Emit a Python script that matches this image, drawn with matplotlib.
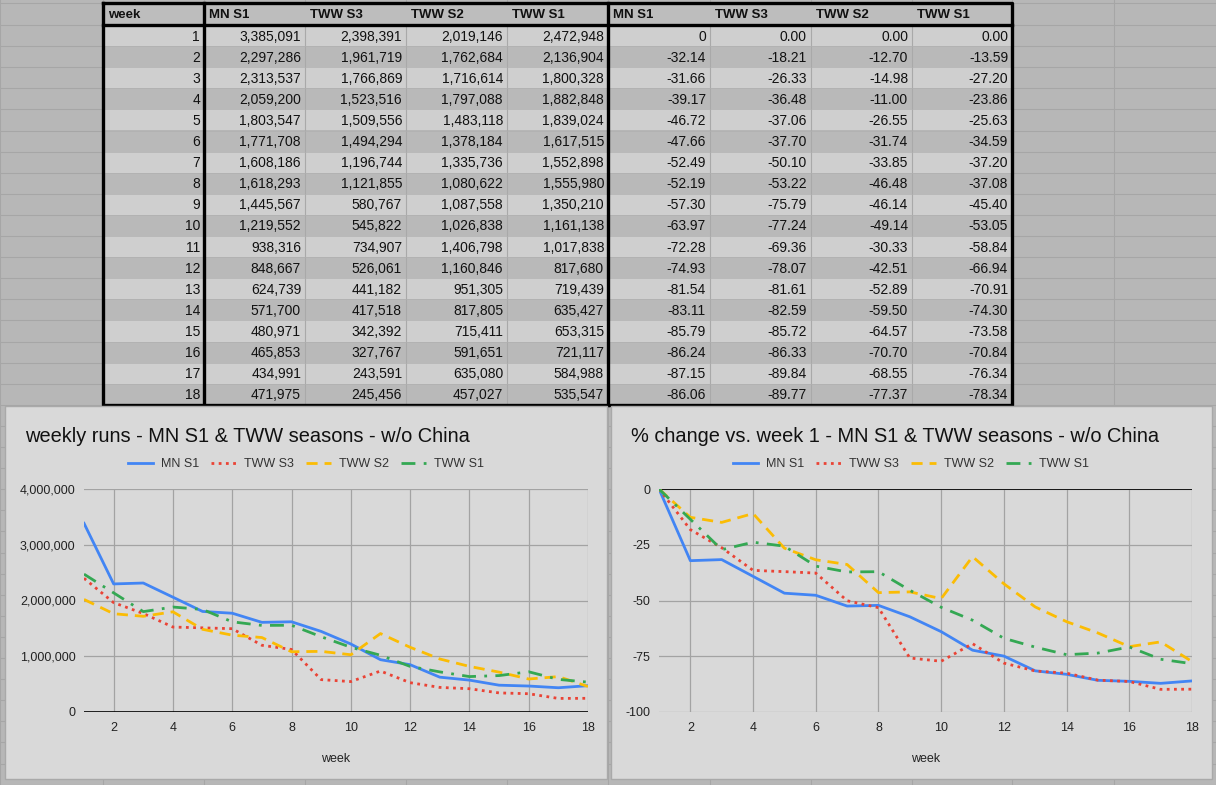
# 주간 실행수 표 + 두 개의 선 그래프 (스프레드시트 화면 재현)

import matplotlib
matplotlib.use('Agg')
import matplotlib.pyplot as plt
from matplotlib.patches import Rectangle

plt.rcParams['font.family'] = ['Liberation Sans', 'DejaVu Sans']

# 데이터
weeks = list(range(1, 19))
series_names = ['MN S1', 'TWW S3', 'TWW S2', 'TWW S1']

runs_mn_s1 = [3385091, 2297286, 2313537, 2059200, 1803547, 1771708, 1608186, 1618293, 1445567,
              1219552, 938316, 848667, 624739, 571700, 480971, 465853, 434991, 471975]
runs_tww_s3 = [2398391, 1961719, 1766869, 1523516, 1509556, 1494294, 1196744, 1121855, 580767,
               545822, 734907, 526061, 441182, 417518, 342392, 327767, 243591, 245456]
runs_tww_s2 = [2019146, 1762684, 1716614, 1797088, 1483118, 1378184, 1335736, 1080622, 1087558,
               1026838, 1406798, 1160846, 951305, 817805, 715411, 591651, 635080, 457027]
runs_tww_s1 = [2472948, 2136904, 1800328, 1882848, 1839024, 1617515, 1552898, 1555980, 1350210,
               1161138, 1017838, 817680, 719439, 635427, 653315, 721117, 584988, 535547]

pct_mn_s1 = [0, -32.14, -31.66, -39.17, -46.72, -47.66, -52.49, -52.19, -57.30,
             -63.97, -72.28, -74.93, -81.54, -83.11, -85.79, -86.24, -87.15, -86.06]
pct_tww_s3 = [0.00, -18.21, -26.33, -36.48, -37.06, -37.70, -50.10, -53.22, -75.79,
              -77.24, -69.36, -78.07, -81.61, -82.59, -85.72, -86.33, -89.84, -89.77]
pct_tww_s2 = [0.00, -12.70, -14.98, -11.00, -26.55, -31.74, -33.85, -46.48, -46.14,
              -49.14, -30.33, -42.51, -52.89, -59.50, -64.57, -70.70, -68.55, -77.37]
pct_tww_s1 = [0.00, -13.59, -27.20, -23.86, -25.63, -34.59, -37.20, -37.08, -45.40,
              -53.05, -58.84, -66.94, -70.91, -74.30, -73.58, -70.84, -76.34, -78.34]

runs = [runs_mn_s1, runs_tww_s3, runs_tww_s2, runs_tww_s1]
pcts = [pct_mn_s1, pct_tww_s3, pct_tww_s2, pct_tww_s1]

colors = ['#4285f4', '#ea4335', '#fbbc04', '#34a853']
styles = ['-', (0, (1, 1.6)), (0, (4, 2.5)), (0, (5, 3, 1, 3))]

W, H = 1216, 785
fig = plt.figure(figsize=(W / 100, H / 100), dpi=100)
fig.patch.set_facecolor('#b7b7b7')


def px_rect(x0, y0, x1, y1):
    return [x0 / W, 1 - y1 / H, (x1 - x0) / W, (y1 - y0) / H]


# 배경 (스프레드시트 격자) + 표
bg = fig.add_axes([0, 0, 1, 1])
bg.set_xlim(0, W)
bg.set_ylim(H, 0)
bg.axis('off')

col_x = [103, 204, 305, 406, 507, 608, 710, 811, 912, 1012]
grid_cols = [0] + col_x + [1114, 1216]
row_top, header_bot, row_h = 3, 25, 21.1
grid_rows = [row_top, header_bot] + [header_bot + row_h * (i + 1) for i in range(40)]

for x in grid_cols:
    bg.plot([x, x], [0, H], color='#a6a6a6', lw=0.8, zorder=1)
for y in grid_rows:
    bg.plot([0, W], [y, y], color='#a6a6a6', lw=0.8, zorder=1)

table_bot = header_bot + row_h * len(weeks)

# 머리글
bg.add_patch(Rectangle((col_x[0], row_top), col_x[-1] - col_x[0], header_bot - row_top,
                       facecolor='#bdbdbd', edgecolor='none', zorder=2))
headers = ['week'] + series_names + series_names
for j, name in enumerate(headers):
    bg.text(col_x[j] + 5, (row_top + header_bot) / 2 + 1, name, fontsize=9.5,
            fontweight='bold', ha='left', va='center', color='#111111', zorder=4)

# 데이터 행
for i, wk in enumerate(weeks):
    y0 = header_bot + row_h * i
    shade = '#cfcfcf' if i % 2 == 0 else '#b9b9b9'
    bg.add_patch(Rectangle((col_x[0], y0), col_x[-1] - col_x[0], row_h,
                           facecolor=shade, edgecolor='none', zorder=2))
    yc = y0 + row_h / 2 + 1
    cells = [str(wk)]
    cells += ['{:,}'.format(r[i]) for r in runs]
    for k, p in enumerate(pcts):
        if k == 0 and p[i] == 0:
            cells.append('0')
        else:
            cells.append('{:.2f}'.format(p[i]))
    for j, txt in enumerate(cells):
        bg.text(col_x[j + 1] - 4, yc, txt, fontsize=10, ha='right', va='center',
                color='#111111', zorder=4)

for x in col_x[1:-1]:
    bg.plot([x, x], [header_bot, table_bot], color='#a9a9a9', lw=0.8, zorder=3)
for y in [header_bot + row_h * i for i in range(1, len(weeks))]:
    bg.plot([col_x[0], col_x[-1]], [y, y], color='#b0b0b0', lw=0.5, zorder=3)

# 굵은 테두리
thick = dict(color='black', lw=2.4, zorder=5, solid_capstyle='projecting')
bg.plot([col_x[0], col_x[-1], col_x[-1], col_x[0], col_x[0]],
        [row_top, row_top, table_bot, table_bot, row_top], **thick)
bg.plot([col_x[0], col_x[-1]], [header_bot, header_bot], **thick)
bg.plot([col_x[1], col_x[1]], [row_top, table_bot], **thick)
bg.plot([col_x[5], col_x[5]], [row_top, table_bot], **thick)

# 차트 패널
panels = [(5, 406, 607, 779), (611, 406, 1212, 779)]
for (x0, y0, x1, y1) in panels:
    bg.add_patch(Rectangle((x0, y0), x1 - x0, y1 - y0, facecolor='#d9d9d9',
                           edgecolor='#a9a9a9', lw=1.0, zorder=6))


def draw_chart(rect, data, title, title_x, legend_x, ylim, yticks, yfmt, zero_y):
    ax = fig.add_axes(px_rect(*rect))
    ax.set_facecolor('#d9d9d9')
    for name, vals, c, ls in zip(series_names, data, colors, styles):
        ax.plot(weeks, vals, color=c, linestyle=ls, lw=2, label=name, zorder=3)
    ax.set_xlim(1, 18)
    ax.set_ylim(*ylim)
    ax.set_xticks(range(2, 19, 2))
    ax.set_yticks(yticks)
    ax.set_yticklabels([yfmt(v) for v in yticks])
    ax.grid(True, color='#a3a3a3', lw=0.9, zorder=1)
    ax.axhline(zero_y, color='black', lw=1.2, zorder=2)
    for s in ax.spines.values():
        s.set_visible(False)
    ax.tick_params(length=0, labelsize=9, colors='#222222')
    ax.tick_params(axis='x', pad=7)
    ax.tick_params(axis='y', pad=6)
    ax.set_xlabel('week', fontsize=9, color='#222222', labelpad=14)
    fig.text(title_x / W, 1 - 436 / H, title, fontsize=14.4, ha='left', va='center',
             color='#111111')
    ax.legend(loc='center', bbox_to_anchor=(legend_x / W, 1 - 464 / H),
              bbox_transform=fig.transFigure, ncol=4, frameon=False, fontsize=9,
              handlelength=2.0, handletextpad=0.6, columnspacing=1.0,
              labelcolor='#333333')
    return ax


draw_chart((84, 489, 588, 712), runs, 'weekly runs - MN S1 & TWW seasons - w/o China',
           25, 306, (0, 4000000), [0, 1000000, 2000000, 3000000, 4000000],
           lambda v: '{:,}'.format(v), 0)
draw_chart((659, 489, 1192, 712), pcts,
           '% change vs. week 1 - MN S1 & TWW seasons - w/o China',
           631, 911, (-100, 0), [-100, -75, -50, -25, 0],
           lambda v: str(v), 0)

fig.savefig('out.png', dpi=100, facecolor=fig.get_facecolor())
